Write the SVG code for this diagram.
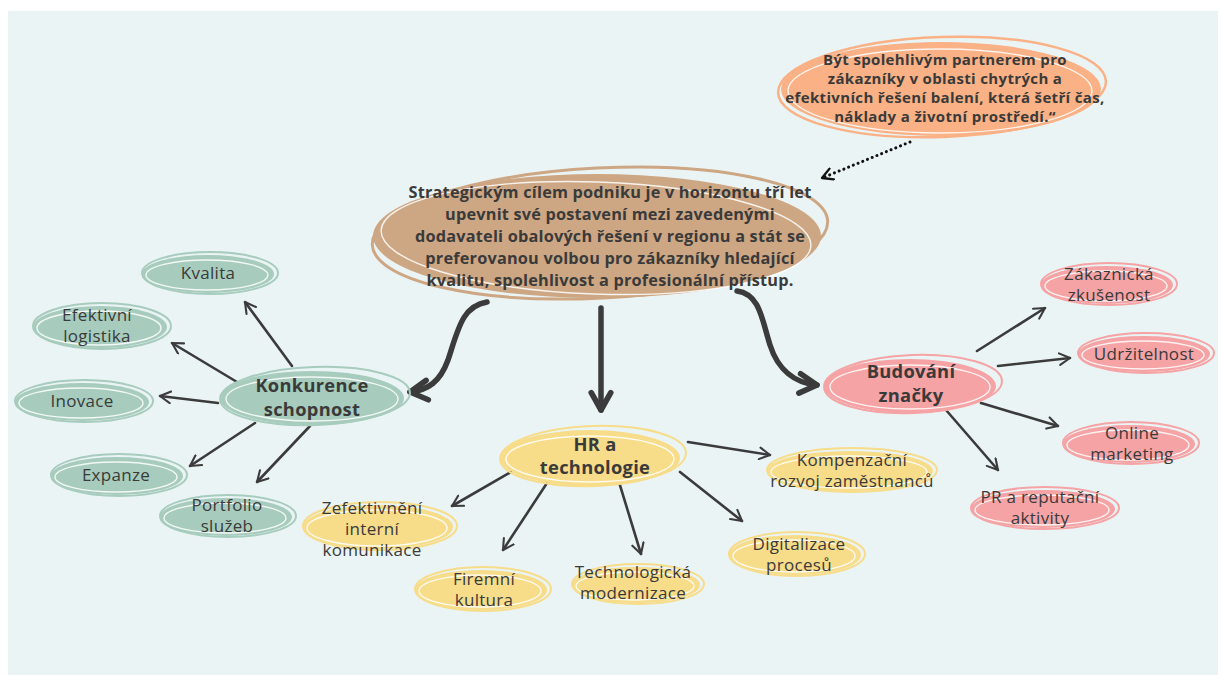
<svg xmlns="http://www.w3.org/2000/svg" width="1224" height="686" viewBox="0 0 1224 686">
<defs>
<style>
.t{font-family:"Open Sans","Liberation Sans",sans-serif;fill:#3a3a3a;text-anchor:middle}
.leaf{font-size:17px;letter-spacing:0.3px}
.hub{font-size:18.3px;font-weight:bold;letter-spacing:0.3px}
.cl{font-size:16.3px;font-weight:bold;letter-spacing:0.2px}
.ol{font-size:15px;font-weight:bold;letter-spacing:0.35px}
.wl{fill:none;stroke:#ffffff;stroke-width:1.4;opacity:.85}
.con{fill:none;stroke:#3b3b3b;stroke-width:2.6;stroke-linecap:round}
.thick{fill:none;stroke:#3b3b3b;stroke-width:5.5;stroke-linecap:round}
.g{fill:#a7ccbd}.gs{fill:none;stroke:#a7ccbd;stroke-width:2}
.y{fill:#f7dc8a}.ys{fill:none;stroke:#f7dc8a;stroke-width:2}
.p{fill:#f5a3a5}.ps{fill:none;stroke:#f5a3a5;stroke-width:2}
</style>
<marker id="ah" viewBox="0 0 12 12" refX="10" refY="6" markerWidth="14" markerHeight="14" markerUnits="userSpaceOnUse" orient="auto">
<path d="M1,1 L10,6 L1,11" fill="none" stroke="#3b3b3b" stroke-width="1.8" stroke-linecap="round" stroke-linejoin="round"/>
</marker>
<marker id="ahb" viewBox="0 0 12 12" refX="10" refY="6" markerWidth="26" markerHeight="26" markerUnits="userSpaceOnUse" orient="auto">
<path d="M2,1.5 L10,6 L2,10.5" fill="none" stroke="#3b3b3b" stroke-width="2.6" stroke-linecap="round" stroke-linejoin="round"/>
</marker>
<marker id="ahd" viewBox="0 0 12 12" refX="10" refY="6" markerWidth="14" markerHeight="14" markerUnits="userSpaceOnUse" orient="auto">
<path d="M1,1 L10,6 L1,11" fill="none" stroke="#111" stroke-width="2" stroke-linecap="round" stroke-linejoin="round"/>
</marker>
</defs>
<rect x="0" y="0" width="1224" height="686" fill="#ffffff"/>
<rect x="8" y="11" width="1210" height="664" fill="#ebf4f5"/>

<g id="connectors">
<path d="M910,142 L822,178" fill="none" stroke="#111" stroke-width="3" stroke-linecap="round" stroke-dasharray="0.1 5" marker-end="url(#ahd)"/>
<path class="thick" d="M487,302 C462,306 458,330 448,360 C440,382 428,390 410,392" marker-end="url(#ahb)"/>
<path class="thick" d="M601,308 L601,410" marker-end="url(#ahb)"/>
<path class="thick" d="M737,291 C760,294 762,320 770,345 C778,370 795,383 817,385" marker-end="url(#ahb)"/>
<path class="con" d="M292,366 L245,302" marker-end="url(#ah)"/>
<path class="con" d="M237,382 L172,343" marker-end="url(#ah)"/>
<path class="con" d="M218,403 L160,396" marker-end="url(#ah)"/>
<path class="con" d="M255,423 L190,466" marker-end="url(#ah)"/>
<path class="con" d="M310,426 L257,482" marker-end="url(#ah)"/>
<path class="con" d="M688,442 L770,455" marker-end="url(#ah)"/>
<path class="con" d="M511,472 L452,506" marker-end="url(#ah)"/>
<path class="con" d="M547,483 L503,550" marker-end="url(#ah)"/>
<path class="con" d="M619,482 L641,554" marker-end="url(#ah)"/>
<path class="con" d="M680,472 L742,521" marker-end="url(#ah)"/>
<path class="con" d="M977,351 L1045,308" marker-end="url(#ah)"/>
<path class="con" d="M998,366 L1070,358" marker-end="url(#ah)"/>
<path class="con" d="M981,403 L1058,426" marker-end="url(#ah)"/>
<path class="con" d="M946,410 L998,470" marker-end="url(#ah)"/>
</g>

<g id="center">
<ellipse cx="597" cy="236" rx="224" ry="62" fill="#cda784"/>
<ellipse cx="600" cy="233" rx="228" ry="65" fill="none" stroke="#cda784" stroke-width="3" transform="rotate(-3 600 233)"/>
<ellipse cx="596" cy="238" rx="215" ry="56" class="wl" transform="rotate(2 596 238)"/>
<text class="t cl" x="610" y="198">Strategickým cílem podniku je v horizontu tří let</text>
<text class="t cl" x="610" y="220">upevnit své postavení mezi zavedenými</text>
<text class="t cl" x="610" y="242">dodavateli obalových řešení v regionu a stát se</text>
<text class="t cl" x="610" y="264">preferovanou volbou pro zákazníky hledající</text>
<text class="t cl" x="610" y="286">kvalitu, spolehlivost a profesionální přístup.</text>
</g>

<g id="vision">
<ellipse cx="941" cy="89" rx="160" ry="47" fill="#f9b185"/>
<ellipse cx="942" cy="87" rx="164" ry="50" fill="none" stroke="#f9b185" stroke-width="2.5" transform="rotate(-2 942 87)"/>
<ellipse cx="940" cy="91" rx="152" ry="42" class="wl"/>
<text class="t ol" x="945" y="65">Být spolehlivým partnerem pro</text>
<text class="t ol" x="945" y="84">zákazníky v oblasti chytrých a</text>
<text class="t ol" x="945" y="103">efektivních řešení balení, která šetří čas,</text>
<text class="t ol" x="945" y="122">náklady a životní prostředí.“</text>
</g>

<g id="konkurence">
<ellipse cx="312" cy="398" rx="92" ry="27" class="g"/>
<ellipse cx="315" cy="396" rx="95" ry="29" class="gs" transform="rotate(-2 315 396)"/>
<ellipse cx="312" cy="399" rx="86" ry="22" class="wl"/>
<text class="t hub" x="312" y="392">Konkurence</text>
<text class="t hub" x="312" y="416">schopnost</text>
</g>
<g id="kvalita">
<ellipse cx="208" cy="274" rx="66" ry="19" class="g"/>
<ellipse cx="210" cy="273" rx="68" ry="21" class="gs"/>
<ellipse cx="207" cy="275" rx="61" ry="15" class="wl"/>
<text class="t leaf" x="208" y="279">Kvalita</text>
</g>
<g id="logistika">
<ellipse cx="100" cy="327" rx="67" ry="21" class="g"/>
<ellipse cx="102" cy="326" rx="69" ry="23" class="gs"/>
<ellipse cx="99" cy="328" rx="62" ry="17" class="wl"/>
<text class="t leaf" x="97" y="321">Efektivní</text>
<text class="t leaf" x="97" y="342">logistika</text>
</g>
<g id="inovace">
<ellipse cx="82" cy="402" rx="67" ry="19" class="g"/>
<ellipse cx="84" cy="401" rx="69" ry="21" class="gs"/>
<ellipse cx="81" cy="403" rx="62" ry="15" class="wl"/>
<text class="t leaf" x="82" y="407">Inovace</text>
</g>
<g id="expanze">
<ellipse cx="117" cy="476" rx="66" ry="19" class="g"/>
<ellipse cx="119" cy="475" rx="68" ry="21" class="gs"/>
<ellipse cx="116" cy="477" rx="61" ry="15" class="wl"/>
<text class="t leaf" x="116" y="481">Expanze</text>
</g>
<g id="portfolio">
<ellipse cx="226" cy="517" rx="66" ry="19" class="g"/>
<ellipse cx="228" cy="516" rx="68" ry="21" class="gs"/>
<ellipse cx="225" cy="518" rx="61" ry="15" class="wl"/>
<text class="t leaf" x="227" y="511">Portfolio</text>
<text class="t leaf" x="227" y="532">služeb</text>
</g>

<g id="hr">
<ellipse cx="590" cy="458" rx="90" ry="28" class="y"/>
<ellipse cx="593" cy="456" rx="93" ry="30" class="ys" transform="rotate(-2 593 456)"/>
<ellipse cx="590" cy="459" rx="84" ry="23" class="wl"/>
<text class="t hub" x="595" y="451">HR a</text>
<text class="t hub" x="595" y="474">technologie</text>
</g>
<g id="kompenzacni">
<ellipse cx="850" cy="471" rx="83" ry="20" class="y"/>
<ellipse cx="852" cy="470" rx="85" ry="22" class="ys"/>
<ellipse cx="849" cy="472" rx="78" ry="16" class="wl"/>
<text class="t leaf" x="852" y="466">Kompenzační</text>
<text class="t leaf" x="852" y="487">rozvoj zaměstnanců</text>
</g>
<g id="zefektivneni">
<ellipse cx="378" cy="527" rx="75" ry="22" class="y"/>
<ellipse cx="380" cy="526" rx="77" ry="24" class="ys"/>
<ellipse cx="377" cy="528" rx="70" ry="18" class="wl"/>
<text class="t leaf" x="372" y="514">Zefektivnění</text>
<text class="t leaf" x="372" y="535">interní</text>
<text class="t leaf" x="372" y="556">komunikace</text>
</g>
<g id="firemni">
<ellipse cx="481" cy="590" rx="66" ry="20" class="y"/>
<ellipse cx="483" cy="589" rx="68" ry="22" class="ys"/>
<ellipse cx="480" cy="591" rx="61" ry="16" class="wl"/>
<text class="t leaf" x="484" y="585">Firemní</text>
<text class="t leaf" x="484" y="606">kultura</text>
</g>
<g id="technologicka">
<ellipse cx="636" cy="585" rx="64" ry="18" class="y"/>
<ellipse cx="638" cy="584" rx="66" ry="20" class="ys"/>
<ellipse cx="635" cy="586" rx="59" ry="14" class="wl"/>
<text class="t leaf" x="633" y="578">Technologická</text>
<text class="t leaf" x="633" y="599">modernizace</text>
</g>
<g id="digitalizace">
<ellipse cx="795" cy="555" rx="66" ry="20" class="y"/>
<ellipse cx="797" cy="554" rx="68" ry="22" class="ys"/>
<ellipse cx="794" cy="556" rx="61" ry="16" class="wl"/>
<text class="t leaf" x="799" y="550">Digitalizace</text>
<text class="t leaf" x="799" y="571">procesů</text>
</g>

<g id="budovani">
<ellipse cx="910" cy="386" rx="86" ry="27" class="p"/>
<ellipse cx="913" cy="384" rx="89" ry="29" class="ps" transform="rotate(-2 913 384)"/>
<ellipse cx="910" cy="387" rx="80" ry="22" class="wl"/>
<text class="t hub" x="911" y="378">Budování</text>
<text class="t hub" x="911" y="402">značky</text>
</g>
<g id="zakaznicka">
<ellipse cx="1107" cy="285" rx="66" ry="19" class="p"/>
<ellipse cx="1109" cy="284" rx="68" ry="21" class="ps"/>
<ellipse cx="1106" cy="286" rx="61" ry="15" class="wl"/>
<text class="t leaf" x="1109" y="280">Zákaznická</text>
<text class="t leaf" x="1109" y="301">zkušenost</text>
</g>
<g id="udrzitelnost">
<ellipse cx="1144" cy="354" rx="66" ry="18" class="p"/>
<ellipse cx="1146" cy="353" rx="68" ry="20" class="ps"/>
<ellipse cx="1143" cy="355" rx="61" ry="14" class="wl"/>
<text class="t leaf" x="1144" y="360">Udržitelnost</text>
</g>
<g id="online">
<ellipse cx="1129" cy="444" rx="66" ry="19" class="p"/>
<ellipse cx="1131" cy="443" rx="68" ry="21" class="ps"/>
<ellipse cx="1128" cy="445" rx="61" ry="15" class="wl"/>
<text class="t leaf" x="1132" y="439">Online</text>
<text class="t leaf" x="1132" y="460">marketing</text>
</g>
<g id="pr">
<ellipse cx="1043" cy="509" rx="72" ry="19" class="p"/>
<ellipse cx="1045" cy="508" rx="74" ry="21" class="ps"/>
<ellipse cx="1042" cy="510" rx="67" ry="15" class="wl"/>
<text class="t leaf" x="1040" y="503">PR a reputační</text>
<text class="t leaf" x="1040" y="524">aktivity</text>
</g>
</svg>
